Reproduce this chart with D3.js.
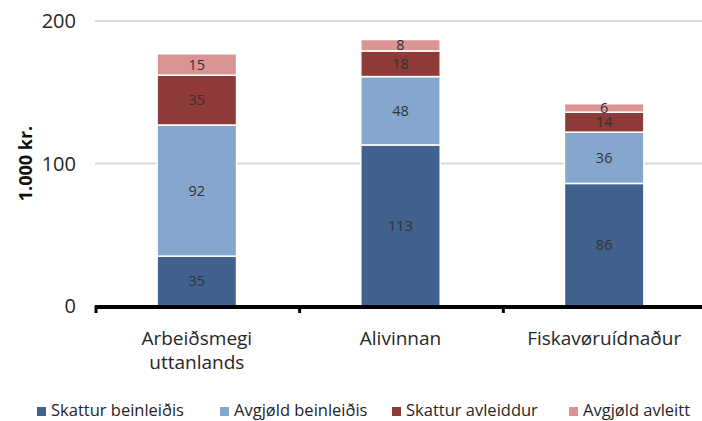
<!DOCTYPE html>
<meta charset="utf-8">
<title>Stacked bars</title>
<style>
body { margin: 0; background: #fff; font-family: 'Open Sans', sans-serif; }
</style>
<body>
<script src="https://d3js.org/d3.v7.min.js"></script>
<script>
// data
var categories = ["Arbeiðsmegi uttanlands", "Alivinnan", "Fiskavøruídnaður"];
var seriesNames = ["Skattur beinleiðis", "Avgjøld beinleiðis", "Skattur avleiddur", "Avgjøld avleitt"];
var skatturBein = [35, 113, 86];
var avgjoldBein = [92, 48, 36];
var skatturAvl = [35, 18, 14];
var avgjoldAvl = [15, 8, 6];
var yTicks = [0, 100, 200];
var colors = ["#41618F", "#86A7CD", "#8E3A38", "#DA9493"];

var width = 702, height = 421;
var margin = {left: 95, right: 0, top: 21, bottom: 115};

var svg = d3.select("body").append("svg")
    .attr("width", width)
    .attr("height", height);

var x = d3.scaleBand()
    .domain(categories)
    .range([margin.left, width + 4])
    .paddingInner(0.61)
    .paddingOuter(0.305);

var y = d3.scaleLinear()
    .domain([0, 200])
    .range([306, 21]);

// build rows for stacking
var rows = categories.map(function(c, i) {
  return {cat: c, s0: skatturBein[i], s1: avgjoldBein[i], s2: skatturAvl[i], s3: avgjoldAvl[i]};
});
var stack = d3.stack().keys(["s0", "s1", "s2", "s3"]);
var layers = stack(rows);

// gridlines
svg.append("g").selectAll("line")
    .data(yTicks.filter(function(d) { return d > 0; }))
    .enter().append("line")
    .attr("x1", margin.left).attr("x2", width)
    .attr("y1", function(d) { return y(d); })
    .attr("y2", function(d) { return y(d); })
    .attr("stroke", "#dadada")
    .attr("stroke-width", 2);

// y tick labels
svg.append("g").selectAll("text")
    .data(yTicks)
    .enter().append("text")
    .attr("x", 76)
    .attr("y", function(d) { return y(d); })
    .attr("dy", "0.36em")
    .attr("text-anchor", "end")
    .attr("font-size", 20)
    .attr("fill", "#262626")
    .text(function(d) { return d; });

// y title
svg.append("text")
    .attr("transform", "translate(32," + y(100) + ") rotate(-90)")
    .attr("text-anchor", "middle")
    .attr("font-size", 18)
    .attr("font-weight", "bold")
    .attr("fill", "#111")
    .text("1.000 kr.");

// bars
var g = svg.append("g");
layers.forEach(function(layer, li) {
  g.selectAll(".l" + li)
    .data(layer)
    .enter().append("rect")
    .attr("x", function(d) { return x(d.data.cat); })
    .attr("width", x.bandwidth())
    .attr("y", function(d) { return y(d[1]); })
    .attr("height", function(d) { return y(d[0]) - y(d[1]); })
    .attr("fill", colors[li])
    .attr("stroke", "#fff")
    .attr("stroke-width", 1.5);

  g.selectAll(".t" + li)
    .data(layer)
    .enter().append("text")
    .attr("x", function(d) { return x(d.data.cat) + x.bandwidth() / 2; })
    .attr("y", function(d) { return (y(d[0]) + y(d[1])) / 2; })
    .attr("dy", "0.36em")
    .attr("text-anchor", "middle")
    .attr("font-size", 14.5)
    .attr("fill", "#333")
    .text(function(d) { return d[1] - d[0]; });
});

// x axis line with ticks
var step = x.step();
var axisG = svg.append("g");
axisG.append("line")
    .attr("x1", margin.left).attr("x2", width)
    .attr("y1", y(0) + 1).attr("y2", y(0) + 1)
    .attr("stroke", "#000").attr("stroke-width", 4);
axisG.selectAll(".tick")
    .data(d3.range(categories.length + 1))
    .enter().append("line")
    .attr("x1", function(i) { return margin.left + 1 + i * step; })
    .attr("x2", function(i) { return margin.left + 1 + i * step; })
    .attr("y1", y(0)).attr("y2", y(0) + 7)
    .attr("stroke", "#000").attr("stroke-width", 3);

// category labels
svg.append("g").selectAll("text")
    .data(categories)
    .enter().append("text")
    .attr("x", function(d) { return x(d) + x.bandwidth() / 2; })
    .attr("y", 345)
    .attr("text-anchor", "middle")
    .attr("font-size", 19)
    .attr("fill", "#262626")
    .each(function(d) {
      var words = d.split(" ");
      var t = d3.select(this);
      words.forEach(function(w, i) {
        t.append("tspan")
          .attr("x", x(d) + x.bandwidth() / 2)
          .attr("dy", i === 0 ? 0 : 24)
          .text(w);
      });
    });

// legend
var legendX = [37, 220, 392, 569];
var leg = svg.append("g").selectAll("g")
    .data(seriesNames)
    .enter().append("g")
    .attr("transform", function(d, i) { return "translate(" + legendX[i] + ",407)"; });
leg.append("rect")
    .attr("width", 9).attr("height", 9)
    .attr("fill", function(d, i) { return colors[i]; });
leg.append("text")
    .attr("x", 14).attr("y", 9)
    .attr("font-size", 16.5)
    .attr("fill", "#262626")
    .text(function(d) { return d; });
</script>
</body>
